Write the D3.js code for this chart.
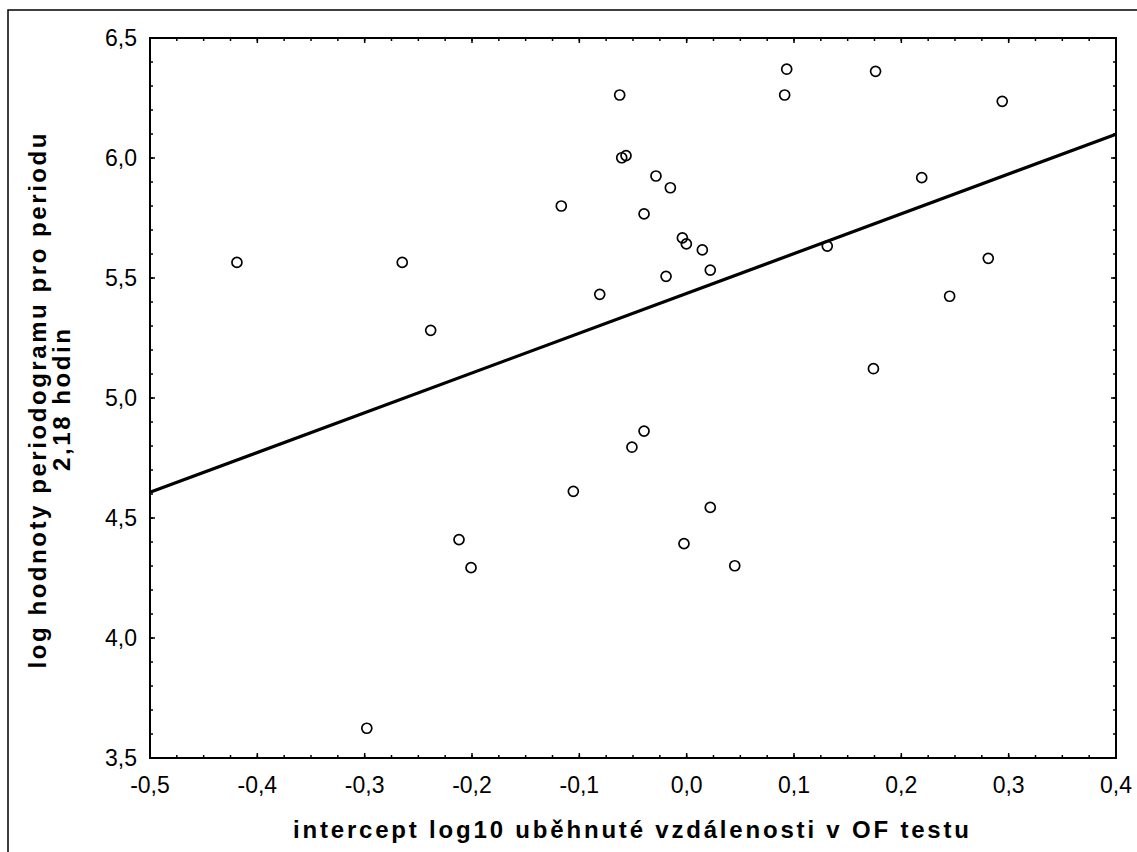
<!DOCTYPE html>
<html><head><meta charset="utf-8">
<script src="https://cdn.jsdelivr.net/npm/d3@7"></script>
<style>body{margin:0;background:#fff;} text{font-family:"Liberation Sans",Arial,sans-serif;}</style>
</head><body>
<svg id="c" width="1137" height="852"></svg>
<script>
const xTicks = [-0.5,-0.4,-0.3,-0.2,-0.1,0.0,0.1,0.2,0.3,0.4];
const yTicks = [3.5,4.0,4.5,5.0,5.5,6.0,6.5];
const xValues = [-0.419,-0.265,-0.2385,-0.0624,0.0932,0.0913,-0.0605,-0.0565,-0.0286,-0.0152,-0.1168,-0.0397,-0.004,-0.0003,0.0146,0.022,-0.0192,-0.081,0.131,0.176,0.294,0.219,0.281,0.245,0.174,-0.0397,-0.051,-0.1056,0.022,-0.2121,-0.0025,-0.2009,0.0448,-0.298];
const yValues = [5.565,5.565,5.282,6.2625,6.370,6.2625,6.001,6.010,5.925,5.876,5.800,5.767,5.667,5.642,5.617,5.533,5.507,5.432,5.633,6.361,6.236,5.918,5.582,5.424,5.122,4.862,4.795,4.611,4.544,4.410,4.393,4.293,4.301,3.624];
const fitLine = [[-0.5,4.607],[0.4,6.099]];
const xTitle = "intercept log10 uběhnuté vzdálenosti v OF testu";
const yTitle1 = "log hodnoty periodogramu pro periodu";
const yTitle2 = "2,18 hodin";

const L=150,R=1116,T=38,B=758;
const svg=d3.select("#c");
const x=d3.scaleLinear().domain([-0.5,0.4]).range([L,R]);
const y=d3.scaleLinear().domain([3.5,6.5]).range([B,T]);
const fmt=d=>d3.format(".1f")(d).replace(".",",").replace("−","-");

svg.append("rect").attr("x",8).attr("y",10).attr("width",1140).attr("height",870)
  .attr("fill","none").attr("stroke","#000").attr("stroke-width",1.5);

const xMinor=d3.range(0,37).map(i=>-0.5+i*0.025);
const yMinor=d3.range(0,31).map(i=>3.5+i*0.1);
const g=svg.append("g");
function tickLines(vals, isX, len){
  vals.forEach(v=>{
    if(isX){
      const px=x(v);
      g.append("line").attr("x1",px).attr("x2",px).attr("y1",B).attr("y2",B-len).attr("stroke","#000").attr("stroke-width",1.5);
      g.append("line").attr("x1",px).attr("x2",px).attr("y1",T).attr("y2",T+len).attr("stroke","#000").attr("stroke-width",1.5);
    } else {
      const py=y(v);
      g.append("line").attr("y1",py).attr("y2",py).attr("x1",L).attr("x2",L+len).attr("stroke","#000").attr("stroke-width",1.5);
      g.append("line").attr("y1",py).attr("y2",py).attr("x1",R).attr("x2",R-len).attr("stroke","#000").attr("stroke-width",1.5);
    }
  });
}
tickLines(xMinor,true,3);
tickLines(xTicks,true,5);
tickLines(yMinor,false,3);
tickLines(yTicks,false,5);

svg.append("rect").attr("x",L).attr("y",T).attr("width",R-L).attr("height",B-T)
  .attr("fill","none").attr("stroke","#000").attr("stroke-width",2);

svg.append("g").selectAll("text").data(xTicks).join("text")
  .attr("x",d=>x(d)).attr("y",793).attr("text-anchor","middle")
  .attr("font-size",23).text(fmt);
svg.append("g").selectAll("text").data(yTicks).join("text")
  .attr("x",137).attr("y",d=>y(d)+8).attr("text-anchor","end")
  .attr("font-size",23).text(fmt);

svg.append("path").attr("d",d3.line().x(d=>x(d[0])).y(d=>y(d[1]))(fitLine))
  .attr("stroke","#000").attr("stroke-width",3.2).attr("fill","none");

svg.append("g").selectAll("circle").data(xValues.map((v,i)=>[v,yValues[i]])).join("circle")
  .attr("cx",d=>x(d[0])).attr("cy",d=>y(d[1])).attr("r",5)
  .attr("fill","none").attr("stroke","#000").attr("stroke-width",1.7);

svg.append("text").attr("x",631).attr("y",838).attr("text-anchor","middle")
  .attr("font-size",24).attr("font-weight","bold")
  .attr("textLength",676).attr("lengthAdjust","spacing").text(xTitle);
svg.append("text").attr("transform","translate(46,401) rotate(-90)").attr("text-anchor","middle")
  .attr("font-size",24).attr("font-weight","bold")
  .attr("textLength",535).attr("lengthAdjust","spacing").text(yTitle1);
svg.append("text").attr("transform","translate(70,400) rotate(-90)").attr("text-anchor","middle")
  .attr("font-size",24).attr("font-weight","bold")
  .attr("textLength",142).attr("lengthAdjust","spacing").text(yTitle2);
</script>
</body></html>
